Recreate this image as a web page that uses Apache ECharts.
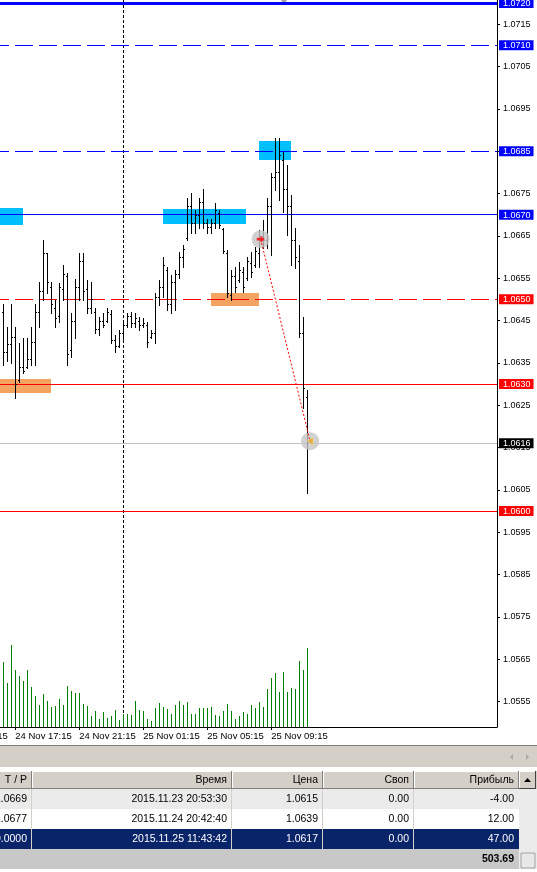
<!DOCTYPE html>
<html><head><meta charset="utf-8">
<script src="https://cdn.jsdelivr.net/npm/echarts@6/dist/echarts.min.js"></script>
<style>html,body{margin:0;padding:0;background:#fff;overflow:hidden}#c{width:537px;height:872px}</style>
</head><body><div id="c"></div>
<script>
// ---------- DATA (15-minute bars, first bar = 24 Nov 16:30) ----------
const firstBarTime = '24 Nov 16:30';
const opens = [1.06470,1.06375,1.06395,1.06410,1.06310,1.06340,1.06340,1.06360,1.06400,1.06470,
1.06520,1.06610,1.06530,1.06480,1.06460,1.06525,1.06555,1.06380,1.06450,1.06530,
1.06590,1.06525,1.06480,1.06470,1.06430,1.06450,1.06450,1.06465,1.06405,1.06390,
1.06420,1.06440,1.06460,1.06445,1.06450,1.06440,1.06440,1.06410,1.06420,1.06505,
1.06530,1.06570,1.06490,1.06540,1.06560,1.06600,1.06645,1.06720,1.06680,1.06700,
1.06730,1.06680,1.06670,1.06680,1.06705,1.06665,1.06610,1.06510,1.06555,1.06545,
1.06565,1.06550,1.06585,1.06580,1.06610,1.06650,1.06640,1.06720,1.06790,1.06800,
1.06830,1.06760,1.06720,1.06640,1.06590,1.06420,1.06270];
const highs = [1.06489,1.06435,1.06489,1.06435,1.06397,1.06409,1.06409,1.06435,1.06489,1.06541,
1.06640,1.06609,1.06541,1.06498,1.06539,1.06581,1.06562,1.06468,1.06548,1.06609,
1.06609,1.06546,1.06541,1.06480,1.06458,1.06468,1.06480,1.06475,1.06416,1.06428,
1.06446,1.06468,1.06470,1.06468,1.06458,1.06456,1.06446,1.06428,1.06515,1.06546,
1.06600,1.06576,1.06557,1.06569,1.06612,1.06628,1.06739,1.06751,1.06711,1.06739,
1.06761,1.06690,1.06690,1.06728,1.06711,1.06668,1.06617,1.06569,1.06576,1.06588,
1.06576,1.06600,1.06612,1.06624,1.06664,1.06687,1.06739,1.06798,1.06881,1.06881,
1.06848,1.06817,1.06746,1.06668,1.06628,1.06458,1.06286];
const lows = [1.06345,1.06354,1.06350,1.06267,1.06305,1.06326,1.06338,1.06345,1.06345,1.06435,
1.06498,1.06515,1.06468,1.06435,1.06446,1.06498,1.06345,1.06364,1.06409,1.06498,
1.06498,1.06468,1.06468,1.06420,1.06416,1.06435,1.06446,1.06397,1.06376,1.06387,
1.06404,1.06435,1.06435,1.06435,1.06428,1.06435,1.06387,1.06409,1.06397,1.06487,
1.06506,1.06475,1.06468,1.06475,1.06550,1.06576,1.06640,1.06657,1.06657,1.06668,
1.06668,1.06657,1.06657,1.06668,1.06668,1.06609,1.06506,1.06498,1.06517,1.06541,
1.06517,1.06546,1.06553,1.06576,1.06576,1.06621,1.06621,1.06605,1.06758,1.06735,
1.06706,1.06652,1.06581,1.06574,1.06411,1.06243,1.06043];
const closes = [1.06375,1.06395,1.06410,1.06300,1.06340,1.06330,1.06360,1.06400,1.06470,1.06520,
1.06610,1.06540,1.06490,1.06455,1.06530,1.06560,1.06370,1.06450,1.06530,1.06590,
1.06520,1.06480,1.06500,1.06430,1.06450,1.06440,1.06470,1.06405,1.06390,1.06420,
1.06440,1.06460,1.06445,1.06455,1.06440,1.06445,1.06400,1.06420,1.06505,1.06530,
1.06580,1.06490,1.06540,1.06560,1.06600,1.06620,1.06720,1.06680,1.06700,1.06730,
1.06680,1.06670,1.06680,1.06710,1.06675,1.06615,1.06515,1.06555,1.06530,1.06570,
1.06530,1.06590,1.06565,1.06615,1.06650,1.06640,1.06720,1.06790,1.06800,1.06840,
1.06760,1.06720,1.06640,1.06600,1.06420,1.06290,1.06160];
const volumes = [650,440,820,570,510,460,570,400,310,220,
330,260,200,210,280,220,410,360,340,340,
230,210,110,160,80,150,90,110,170,70,
130,130,120,260,170,160,80,60,190,240,
200,180,130,220,260,220,250,130,130,190,
190,190,200,120,110,160,230,160,80,110,
150,130,220,190,250,200,380,490,540,350,
550,350,390,380,660,570,790];

// time-axis labels (bar index -> label)
const timeTickIdx = [3, 19, 35, 51, 67];
const timeTickLabels = ['24 Nov 17:15','24 Nov 21:15','25 Nov 01:15','25 Nov 05:15','25 Nov 09:15'];
const cutTickIdx = -13, cutTickLabel = '24 Nov 13:15';
// price-axis labels
const priceTicks = [1.0555,1.0565,1.0575,1.0585,1.0595,1.0605,1.0615,1.0625,1.0635,1.0645,1.0655,1.0665,1.0675,1.0685,1.0695,1.0705,1.0715];
// horizontal levels
const levelPrices = [1.0720, 1.0710, 1.0685, 1.0670, 1.0650, 1.0630, 1.0616, 1.0600];
const levelKinds  = ['blueThick','blueDash','blueDash','blue','redDash','red','bid','red'];
// period separator (25 Nov 00:00)
const separatorIdx = [30];
// zones
const zoneFrom   = [-0.825, 39.9, 63.9, -0.825, 51.9];
const zoneTo     = [4.9, 60.7, 71.9, 11.9, 63.9];
const zoneTop    = [1.06716, 1.06713, 1.06874, 1.06312, 1.06516];
const zoneBottom = [1.06676, 1.06678, 1.06829, 1.06279, 1.06484];
const zoneKinds  = ['cyan','cyan','cyan','orange','orange'];
// trade (open -> close)
const tradeIdx   = [64.35, 76.7];
const tradePrice = [1.06642, 1.06165];
// terminal table
const tableHeaders = ['T / P','Время','Цена','Своп','Прибыль'];
const tableRows = [
  ['1.0669','2015.11.23 20:53:30','1.0615','0.00','-4.00'],
  ['1.0677','2015.11.24 20:42:40','1.0639','0.00','12.00'],
  ['0.0000','2015.11.25 11:43:42','1.0617','0.00','47.00']
];
const totalProfit = '503.69';

// ---------- STYLE / LAYOUT ----------
const FONT = '"Liberation Sans", Arial, sans-serif';
const GRID = {left:0, top:0, width:497, height:727, outerBoundsMode:'none'};
const PX_PER_PRICE = 508/0.012;
const Y_MAX = 1.0720 + 3/PX_PER_PRICE, Y_MIN = Y_MAX - GRID.height/PX_PER_PRICE;
const X_MIN = -0.825, X_MAX = X_MIN + GRID.width/4;
const levelStyle = {
  blueThick:{color:'#0000ff', w:3, dash:false, lab:'blue'},
  blueDash:{color:'#0000ff', w:1, dash:true, lab:'blue'},
  blue:{color:'#0000ff', w:1, dash:false, lab:'blue'},
  redDash:{color:'#ff0000', w:1, dash:true, lab:'red'},
  red:{color:'#ff0000', w:1, dash:false, lab:'red'},
  bid:{color:'#c0c0c0', w:1, dash:false, lab:'bid'}
};
const DASH = 18, GAP = 6, DASH_START = -9;
const zoneColor = {cyan:'#00bfff', orange:'#f4a460'};

const barData = opens.map((o,i)=>[i, o, closes[i], lows[i], highs[i]]);
const volData = volumes.map((v,i)=>[i, v]);
const labelValues = Array.from(new Set([...priceTicks, ...levelPrices].map(v=>v.toFixed(4)))).map(Number).sort((a,b)=>a-b);
function levelKindOf(s){ const k = levelPrices.findIndex(p=>p.toFixed(4)===s); return k<0?null:levelStyle[levelKinds[k]].lab; }

const chart = echarts.init(document.getElementById('c'), null, {renderer:'canvas', width:537, height:872});

function renderOHLC(params, api){
  const x = api.value(0);
  const o = api.coord([x, api.value(1)]), c = api.coord([x, api.value(2)]);
  const l = api.coord([x, api.value(3)]), h = api.coord([x, api.value(4)]);
  const px = Math.floor(o[0]);
  const yh = Math.round(h[1]), yl = Math.round(l[1]);
  return {type:'group', children:[
    {type:'rect', shape:{x:px, y:yh, width:1, height:Math.max(1, yl-yh+1)}, style:{fill:'#000'}},
    {type:'rect', shape:{x:px-1, y:Math.round(o[1]), width:1, height:1}, style:{fill:'#000'}},
    {type:'rect', shape:{x:px+1, y:Math.round(c[1]), width:1, height:1}, style:{fill:'#000'}}
  ]};
}
function renderVol(params, api){
  const p = api.coord([api.value(0), api.value(1)]);
  const b = api.coord([api.value(0), 0]);
  const px = Math.floor(p[0]);
  const yt = Math.round(p[1]);
  return {type:'rect', shape:{x:px, y:yt, width:1, height:Math.round(b[1])-yt}, style:{fill:'#008000'}};
}
function renderLevel(params, api){
  const cs = params.coordSys;
  const st = levelStyle[levelKinds[api.value(2)]];
  const y = Math.round(api.coord([0, api.value(1)])[1] - st.w/2);
  const children = [];
  if (!st.dash){
    children.push({type:'rect', shape:{x:cs.x, y:y, width:cs.width, height:st.w}, style:{fill:st.color}});
  } else {
    for (let x0 = cs.x + DASH_START; x0 < cs.x + cs.width; x0 += DASH + GAP){
      const a = Math.max(cs.x, x0), b = Math.min(cs.x + cs.width, x0 + DASH);
      if (b > a) children.push({type:'rect', shape:{x:a, y:y, width:b-a, height:1}, style:{fill:st.color}});
    }
  }
  return {type:'group', children};
}
function renderSep(params, api){
  const cs = params.coordSys;
  const x = Math.floor(api.coord([api.value(0), 1.06])[0]);
  const children = [];
  for (let y0 = cs.y; y0 < cs.y + cs.height; y0 += 5){
    children.push({type:'rect', shape:{x:x, y:y0, width:1, height:3}, style:{fill:'#000'}});
  }
  return {type:'group', children};
}
function renderZone(params, api){
  const a = api.coord([api.value(0), api.value(2)]);
  const b = api.coord([api.value(1), api.value(3)]);
  const x1 = Math.round(a[0]), x2 = Math.round(b[0]), y1 = Math.round(a[1]), y2 = Math.round(b[1]);
  return {type:'rect', shape:{x:x1, y:y1, width:x2-x1, height:y2-y1}, style:{fill:zoneColor[zoneKinds[params.dataIndex]]}};
}

// ----- table graphics -----
const g = [];
const W = 537;
function rect(x,y,w,h,fill,extra){ g.push(Object.assign({type:'rect', silent:true, shape:{x,y,width:w,height:h}, style:{fill}}, extra||{})); }
function text(x,y,t,color,align,bold){ g.push({type:'text', silent:true, x, y, style:{text:t, fill:color, font:(bold?'bold ':'')+'10.5px '+FONT, textAlign:align||'right', textVerticalAlign:'middle'}}); }
rect(0,745,W,1,'#808080');
rect(0,746,W,21,'#d4d0c8');
g.push({type:'polygon', silent:true, shape:{points:[[513,754],[513,760],[510,757]]}, style:{fill:'#a8a8a8'}});
g.push({type:'polygon', silent:true, shape:{points:[[526,754],[526,760],[529,757]]}, style:{fill:'#a8a8a8'}});
rect(0,767,W,4,'#ffffff');
const colEdges = [-20, 32, 232, 323, 414, 519];
rect(0,771,W,18,'#d4d0c8');
for (let i=0;i<5;i++){
  const x0 = colEdges[i], x1 = colEdges[i+1];
  rect(x0,771,x1-x0,1,'#ffffff'); rect(x0,771,1,18,'#ffffff');
  rect(x1-1,771,1,18,'#808080'); rect(x0,788,x1-x0,1,'#808080');
  text(x1-5,780,tableHeaders[i],'#000');
}
rect(519,771,18,18,'#d4d0c8'); rect(519,771,17,1,'#fff'); rect(519,771,1,17,'#fff'); rect(535,771,1,18,'#404040'); rect(519,788,17,1,'#404040');
g.push({type:'polygon', silent:true, shape:{points:[[524,782],[531,782],[527.5,778]]}, style:{fill:'#000'}});
const rowBg = ['#ebebeb','#ffffff','#0a246a'];
const rowFg = ['#000','#000','#fff'];
tableRows.forEach((r,k)=>{
  const y0 = 789 + 20*k;
  rect(0,y0,519,20,rowBg[k]);
  for (let i=1;i<5;i++) rect(colEdges[i]-1,y0,1,20,'#d4d0c8');
  r.forEach((t,i)=> text(colEdges[i+1]-5, y0+10, t, rowFg[k]));
});
rect(0,849,519,20,'#c8c8c8');
text(514,859,totalProfit,'#000','right',true);
rect(519,789,18,80,'#ececec');
rect(521,853,14,15,'#e8e8e8',{style:{fill:'#e8e8e8', stroke:'#a0a0a0', lineWidth:1}});
rect(0,869,W,3,'#ffffff');
g.push({type:'polygon', silent:true, shape:{points:[[281,0],[287,0],[284,4]]}, style:{fill:'#a0a0a0'}});

const option = {
  animation:false,
  backgroundColor:'#ffffff',
  grid: GRID,
  xAxis: {type:'value', min:X_MIN, max:X_MAX, position:'bottom',
    axisLine:{show:true, onZero:false, lineStyle:{color:'#000', width:1}},
    axisTick:{show:true, customValues:timeTickIdx, length:3, lineStyle:{color:'#000'}},
    axisLabel:{show:true, customValues:timeTickIdx, formatter:(v)=>{const k=timeTickIdx.indexOf(Math.round(v)); return k<0?'':timeTickLabels[k];},
      align:'left', margin:4, color:'#000', fontSize:9.5, fontFamily:FONT},
    splitLine:{show:false}},
  yAxis: [
    {type:'value', min:Y_MIN, max:Y_MAX, position:'right', scale:true,
      axisLine:{show:true, onZero:false, lineStyle:{color:'#000', width:1}},
      axisTick:{show:true, customValues:priceTicks, length:3, lineStyle:{color:'#000'}},
      axisLabel:{show:true, customValues:labelValues, margin:2, hideOverlap:false,
        formatter:(v)=>{const s=v.toFixed(4); const k=levelKindOf(s); return k?('{'+k+'|'+s+'}'):('{n|'+s+'}');},
        rich:{
          n:{color:'#000', fontSize:9, fontFamily:FONT, padding:[0,0,0,4], lineHeight:11},
          blue:{color:'#fff', backgroundColor:'#0000ff', fontSize:9, fontFamily:FONT, padding:[1,3,0,4], lineHeight:11},
          red:{color:'#fff', backgroundColor:'#ff0000', fontSize:9, fontFamily:FONT, padding:[1,3,0,4], lineHeight:11},
          bid:{color:'#fff', backgroundColor:'#000000', fontSize:9, fontFamily:FONT, padding:[1,3,0,4], lineHeight:11}
        }},
      splitLine:{show:false}},
    {type:'value', min:0, max:7270, show:false, axisLine:{onZero:false}}
  ],
  series: [
    {type:'custom', name:'zones', z:1, renderItem:renderZone, silent:true, clip:true,
      data: zoneFrom.map((f,i)=>[f, zoneTo[i], zoneTop[i], zoneBottom[i]]), encode:{x:[0,1], y:[2,3]}},
    {type:'custom', name:'separator', z:2, renderItem:renderSep, silent:true, data: separatorIdx.map(v=>[v, 1.06]), encode:{x:0, y:1}},
    {type:'custom', name:'levels', z:2, renderItem:renderLevel, silent:true, clip:true,
      data: levelPrices.map((p,k)=>[0, p, k]), encode:{x:0, y:1}},
    {type:'custom', name:'volume', yAxisIndex:1, z:3, renderItem:renderVol, silent:true, data: volData, encode:{x:0, y:1}},
    {type:'custom', name:'bars', z:4, renderItem:renderOHLC, silent:true, clip:true, data: barData, encode:{x:0, y:[1,2,3,4]}},
    {type:'scatter', name:'tradeMarks', z:5, silent:true, symbol:'circle', symbolSize:18,
      itemStyle:{color:'#c4c4c4'}, data: tradeIdx.map((x,i)=>[x, tradePrice[i]])},
    {type:'line', name:'tradeLine', z:6, silent:true, symbol:'none',
      lineStyle:{color:'#ff0000', width:1, type:[2,2]}, data: tradeIdx.map((x,i)=>[x, tradePrice[i]])},
    {type:'scatter', name:'openArrow', z:7, silent:true, symbol:'path://M0,3 L5,3 L5,0 L10,5 L5,10 L5,7 L0,7 Z', symbolSize:[8,7],
      itemStyle:{color:'#ff0000'}, data:[[tradeIdx[0], tradePrice[0]]]},
    {type:'scatter', name:'closeArrow', z:7, silent:true, symbol:'path://M8,0 L8,10 L0,5 Z', symbolSize:[6,8],
      itemStyle:{color:'#e8a317', borderColor:'#fff3c0', borderWidth:0.5}, data:[[tradeIdx[1], tradePrice[1]]]}
  ],
  graphic: {elements: g}
};
chart.setOption(option);
const cx = chart.convertToPixel({xAxisIndex:0}, cutTickIdx);
chart.setOption({graphic:{elements:[{id:'cutLabel', type:'text', silent:true, x:cx, y:GRID.top+GRID.height+4,
  style:{text:cutTickLabel, fill:'#000', font:'9.5px '+FONT, textAlign:'left', textVerticalAlign:'top'}}]}});
</script>
</body></html>
